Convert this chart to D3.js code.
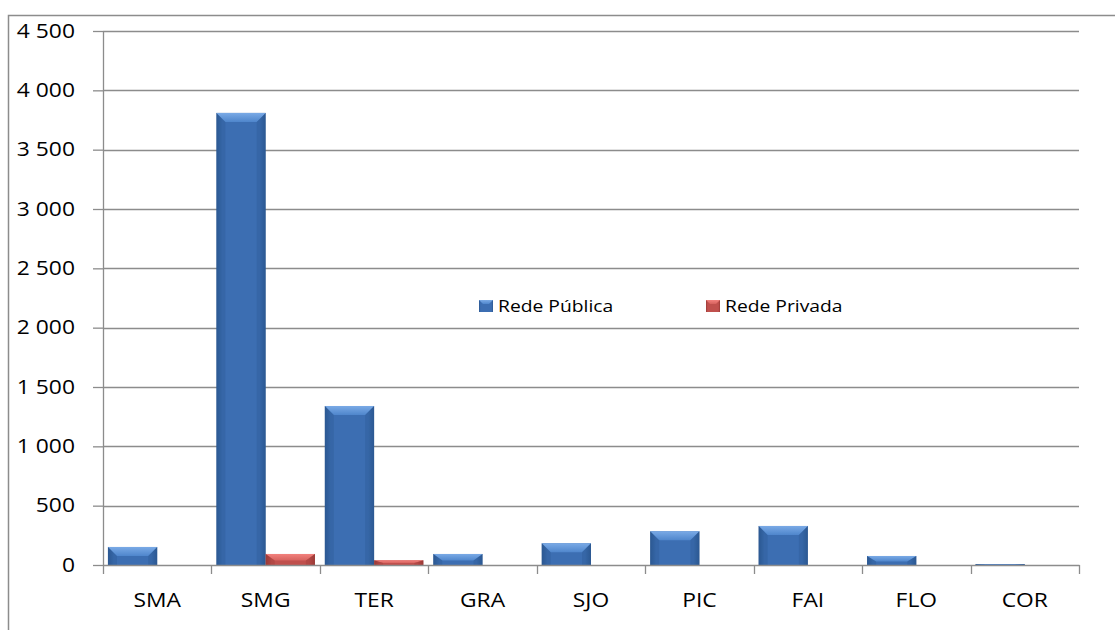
<!DOCTYPE html>
<html><head><meta charset="utf-8">
<script src="https://cdn.jsdelivr.net/npm/d3@7"></script>
<style>body{margin:0;background:#fff;} svg{display:block;}</style>
</head><body>
<script>
const categories = ["SMA","SMG","TER","GRA","SJO","PIC","FAI","FLO","COR"];
const publica = [152, 3810, 1340, 93, 183, 284, 329, 76, 8];
const privada = [0, 93, 40, 0, 0, 0, 0, 0, 0];
const seriesNames = ["Rede Pública","Rede Privada"];
const yTicks = [0,500,1000,1500,2000,2500,3000,3500,4000,4500];

const W = 1115, H = 630;
const m = {left:103, right:1079, top:31, bottom:565};
const FONT = "'Open Sans', 'Noto Sans', sans-serif";
const SX = 1.17;
const svg = d3.select("body").append("svg").attr("width",W).attr("height",H);
const defs = svg.append("defs");

const palette = [
  {main:"#3C6EB2", light:"#7AAAE6", dark:"#2C5892", edge:"#4F86CC"},
  {main:"#C0504D", light:"#F2817D", dark:"#9A3936", edge:"#D6625E"}
];
palette.forEach((p,i)=>{
  const g = defs.append("linearGradient").attr("id","g"+i).attr("x1",0).attr("x2",1).attr("y1",0).attr("y2",0);
  g.append("stop").attr("offset","0%").attr("stop-color",p.dark);
  g.append("stop").attr("offset","12%").attr("stop-color",p.main);
  g.append("stop").attr("offset","88%").attr("stop-color",p.main);
  g.append("stop").attr("offset","100%").attr("stop-color",p.dark);
  const t = defs.append("linearGradient").attr("id","t"+i).attr("x1",0).attr("x2",0).attr("y1",0).attr("y2",1);
  t.append("stop").attr("offset","0%").attr("stop-color",p.light);
  t.append("stop").attr("offset","100%").attr("stop-color",p.edge);
});

// outer chart border
svg.append("path").attr("d",`M8.5,${H} L8.5,15.5 L${W},15.5`).attr("fill","none").attr("stroke","#8c8c8c").attr("stroke-width",1.5);

const x = d3.scaleBand().domain(categories).range([m.left,m.right]).paddingInner(0).paddingOuter(0);
const y = d3.scaleLinear().domain([0,4500]).range([m.bottom,m.top]);
const inner = d3.scaleBand().domain([0,1]).range([0,x.bandwidth()]).paddingOuter(0.1).paddingInner(0);

// gridlines
svg.append("g").selectAll("line").data(yTicks.filter(d=>d>0)).join("line")
  .attr("x1",m.left).attr("x2",m.right).attr("y1",d=>Math.round(y(d))+0.5).attr("y2",d=>Math.round(y(d))+0.5)
  .attr("stroke","#8c8c8c").attr("stroke-width",1.3);

// bars
const fmtSeries = [publica, privada];
fmtSeries.forEach((vals,si)=>{
  const g = svg.append("g");
  categories.forEach((c,ci)=>{
    const v = vals[ci];
    if(!v) return;
    const x0 = x(c)+inner(si), bw = inner.bandwidth();
    const y0 = y(v), h = m.bottom - y0;
    g.append("rect").attr("x",x0).attr("y",y0).attr("width",bw).attr("height",h).attr("fill",`url(#g${si})`);
    const b = Math.min(9, h*0.6);
    const bx = Math.min(9, bw/3);
    g.append("path").attr("d",`M${x0},${y0} L${x0+bw},${y0} L${x0+bw-bx},${y0+b} L${x0+bx},${y0+b} Z`)
      .attr("fill",`url(#t${si})`);
    g.append("path").attr("d",`M${x0},${y0} L${x0+bx},${y0+b} L${x0+bx},${y0+h} L${x0},${y0+h} Z`)
      .attr("fill",palette[si].dark).attr("opacity",0.35);
    g.append("path").attr("d",`M${x0+bw},${y0} L${x0+bw-bx},${y0+b} L${x0+bw-bx},${y0+h} L${x0+bw},${y0+h} Z`)
      .attr("fill",palette[si].dark).attr("opacity",0.35);
  });
});

// y axis
const yAxis = svg.append("g").attr("transform",`translate(${m.left},0)`)
  .call(d3.axisLeft(y).tickValues(yTicks).tickSize(10).tickPadding(14)
    .tickFormat(d=>d3.format(",")(d).replace(/,/g," ")));
yAxis.select(".domain").attr("stroke","#8c8c8c").attr("stroke-width",1.3).attr("d",`M0.5,${m.top}V${m.bottom}`);
yAxis.selectAll(".tick line").attr("stroke","#8c8c8c").attr("stroke-width",1.3);
yAxis.selectAll("text").attr("font-family",FONT).attr("font-size",19.5).attr("fill","#000")
  .attr("transform",`scale(${SX},1)`);

// x axis
const xAxis = svg.append("g").attr("transform",`translate(0,${m.bottom})`)
  .call(d3.axisBottom(x).tickSize(0).tickPadding(28));
xAxis.select(".domain").attr("stroke","#8c8c8c").attr("stroke-width",1.3);
xAxis.selectAll(".tick").each(function(){
  const t = d3.select(this);
  const tr = t.attr("transform");
  t.select("text").attr("font-family",FONT).attr("font-size",19.5).attr("fill","#000")
    .attr("transform",`scale(${SX},1)`);
});
const xb = categories.map(c=>x(c)).concat([m.right]);
svg.append("g").selectAll("line").data(xb).join("line")
  .attr("x1",d=>Math.round(d)+0.5).attr("x2",d=>Math.round(d)+0.5).attr("y1",m.bottom).attr("y2",m.bottom+9)
  .attr("stroke","#8c8c8c").attr("stroke-width",1.3);

// legend
const lg = svg.append("g");
const lx = [479, 706];
seriesNames.forEach((n,i)=>{
  lg.append("rect").attr("x",lx[i]).attr("y",300).attr("width",14).attr("height",12).attr("fill",`url(#g${i})`);
  lg.append("path").attr("d",`M${lx[i]},300 h14 l-4,4 h-6 Z`).attr("fill",`url(#t${i})`);
  lg.append("text").attr("transform",`translate(${lx[i]+19},312) scale(${SX},1)`).text(n)
    .attr("font-family",FONT).attr("font-size",16.5).attr("fill","#000");
});
</script>
</body></html>
